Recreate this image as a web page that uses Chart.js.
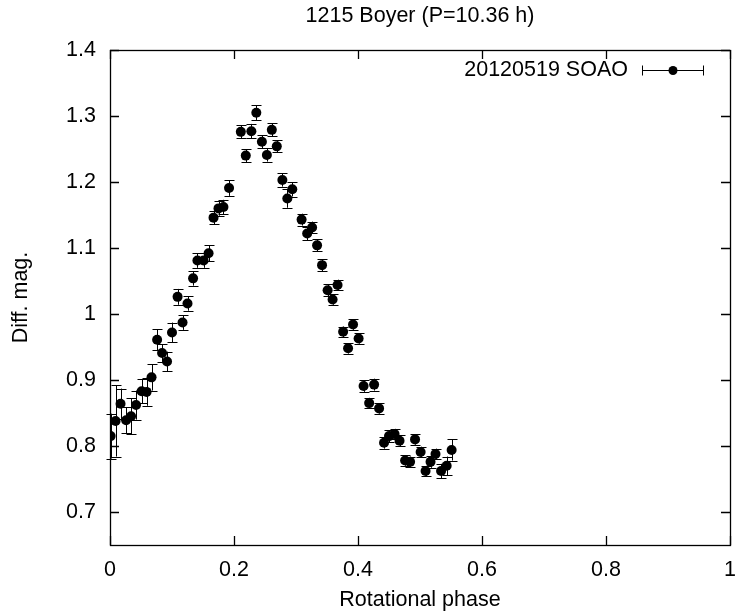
<!DOCTYPE html>
<html>
<head>
<meta charset="utf-8">
<script src="https://cdn.jsdelivr.net/npm/chart.js@4.4.1/dist/chart.umd.min.js"></script>
<style>
html,body{margin:0;padding:0;background:#fff;}
#wrap{width:735px;height:616px;position:relative;}
</style>
</head>
<body>
<div id="wrap"><canvas id="c" width="735" height="616"></canvas></div>
<script>
// ---- data ----
const chartTitle = '1215 Boyer (P=10.36 h)';
const seriesLabel = '20120519 SOAO';
const xAxisTitle = 'Rotational phase';
const yAxisTitle = 'Diff. mag.';
const xTicks = [0, 0.2, 0.4, 0.6, 0.8, 1];
const yTicks = [0.7, 0.8, 0.9, 1.0, 1.1, 1.2, 1.3, 1.4];

const phase = [
  0.001, 0.009, 0.017, 0.026, 0.034, 0.042, 0.051, 0.059, 0.067, 0.076,
  0.084, 0.092, 0.100, 0.109, 0.117, 0.125, 0.134, 0.141, 0.151, 0.159,
  0.167, 0.175, 0.183, 0.192, 0.211, 0.219, 0.228, 0.236, 0.245, 0.253,
  0.261, 0.269, 0.278, 0.286, 0.294, 0.309, 0.318, 0.326, 0.334, 0.342,
  0.351, 0.359, 0.367, 0.376, 0.384, 0.392, 0.401, 0.409, 0.418, 0.426,
  0.434, 0.442, 0.450, 0.459, 0.467, 0.476, 0.484, 0.492, 0.501, 0.509,
  0.517, 0.525, 0.534, 0.543, 0.551
];
const mag = [
  0.815, 0.838, 0.864, 0.839, 0.845, 0.862, 0.883, 0.882, 0.904, 0.961,
  0.941, 0.928, 0.972, 1.026, 0.987, 1.016, 1.054, 1.081, 1.081, 1.092,
  1.146, 1.160, 1.162, 1.191, 1.276, 1.240, 1.277, 1.305, 1.261, 1.241,
  1.279, 1.254, 1.203, 1.175, 1.189, 1.143, 1.122, 1.131, 1.104, 1.074,
  1.036, 1.022, 1.044, 0.973, 0.948, 0.984, 0.963, 0.891, 0.865, 0.893,
  0.857, 0.805, 0.815, 0.818, 0.808, 0.778, 0.776, 0.810, 0.791, 0.762,
  0.776, 0.788, 0.762, 0.770, 0.794
];
const magErr = [
  0.034, 0.054, 0.023, 0.020, 0.027, 0.022, 0.018, 0.021, 0.020, 0.016,
  0.013, 0.015, 0.015, 0.012, 0.011, 0.011, 0.011, 0.011, 0.011, 0.012,
  0.010, 0.011, 0.011, 0.012, 0.010, 0.010, 0.011, 0.011, 0.010, 0.010,
  0.010, 0.009, 0.010, 0.014, 0.011, 0.009, 0.010, 0.009, 0.009, 0.009,
  0.009, 0.008, 0.008, 0.008, 0.008, 0.008, 0.008, 0.009, 0.008, 0.009,
  0.008, 0.009, 0.009, 0.008, 0.008, 0.008, 0.008, 0.008, 0.008, 0.008,
  0.009, 0.008, 0.011, 0.014, 0.016
];

// ---- styling ----
const FONT_FAMILY = '"Liberation Sans", Arial, Helvetica, sans-serif';
const FONT_SIZE = 21.5;
const TICK_LEN = 9;
const CAP = 5;

const points = phase.map((p, i) => ({ x: p, y: mag[i] }));
const fmt = v => String(+Number(v).toFixed(2));

const errorBars = {
  id: 'errorBars',
  beforeDatasetsDraw(chart) {
    const { ctx, scales: { x, y } } = chart;
    ctx.save();
    ctx.strokeStyle = '#000';
    ctx.lineWidth = 1;
    phase.forEach((p, i) => {
      const px = Math.round(x.getPixelForValue(p)) + 0.5;
      const y1 = y.getPixelForValue(mag[i] - magErr[i]);
      const y2 = y.getPixelForValue(mag[i] + magErr[i]);
      ctx.beginPath();
      ctx.moveTo(px, y1); ctx.lineTo(px, y2);
      ctx.moveTo(px - CAP, Math.round(y1) + 0.5); ctx.lineTo(px + CAP, Math.round(y1) + 0.5);
      ctx.moveTo(px - CAP, Math.round(y2) + 0.5); ctx.lineTo(px + CAP, Math.round(y2) + 0.5);
      ctx.stroke();
    });
    ctx.restore();
  }
};

const frameAndLegend = {
  id: 'frameAndLegend',
  afterDraw(chart) {
    const { ctx, chartArea: a, scales: { x, y } } = chart;
    ctx.save();
    ctx.strokeStyle = '#000';
    ctx.lineWidth = 1.3;
    ctx.strokeRect(Math.round(a.left) + 0.5, Math.round(a.top) + 0.5,
                   Math.round(a.right - a.left), Math.round(a.bottom - a.top));
    ctx.beginPath();
    xTicks.forEach(v => {
      const px = Math.round(x.getPixelForValue(v)) + 0.5;
      ctx.moveTo(px, a.bottom); ctx.lineTo(px, a.bottom - TICK_LEN);
      ctx.moveTo(px, a.top); ctx.lineTo(px, a.top + TICK_LEN);
    });
    yTicks.forEach(v => {
      const py = Math.round(y.getPixelForValue(v)) + 0.5;
      ctx.moveTo(a.left, py); ctx.lineTo(a.left + TICK_LEN, py);
      ctx.moveTo(a.right, py); ctx.lineTo(a.right - TICK_LEN, py);
    });
    ctx.stroke();

    // legend (key) in top-right
    const ly = a.top + 20.5;
    const lineL = a.right - 88, lineR = a.right - 26;
    ctx.fillStyle = '#000';
    ctx.font = FONT_SIZE + 'px ' + FONT_FAMILY;
    ctx.textAlign = 'right';
    ctx.textBaseline = 'middle';
    ctx.fillText(seriesLabel, lineL - 14, ly);
    ctx.lineWidth = 1;
    ctx.beginPath();
    ctx.moveTo(lineL, ly); ctx.lineTo(lineR, ly);
    ctx.moveTo(lineL + 0.5, ly - 5); ctx.lineTo(lineL + 0.5, ly + 5);
    ctx.moveTo(lineR - 0.5, ly - 5); ctx.lineTo(lineR - 0.5, ly + 5);
    ctx.stroke();
    ctx.beginPath();
    ctx.arc((lineL + lineR) / 2, ly, 4.5, 0, Math.PI * 2);
    ctx.fill();
    ctx.restore();
  }
};

const tickFont = { family: FONT_FAMILY, size: FONT_SIZE };

new Chart(document.getElementById('c'), {
  type: 'scatter',
  data: {
    datasets: [{
      label: seriesLabel,
      data: points,
      pointRadius: 5,
      pointHoverRadius: 5,
      pointBackgroundColor: '#000',
      pointBorderColor: '#000',
      pointBorderWidth: 0,
      showLine: false
    }]
  },
  options: {
    responsive: false,
    animation: false,
    devicePixelRatio: 1,
    layout: { padding: { left: 0, right: 5, top: 0, bottom: 0 } },
    plugins: {
      legend: { display: false },
      tooltip: { enabled: false },
      title: {
        display: true,
        text: chartTitle,
        fullSize: false,
        color: '#000',
        font: { family: FONT_FAMILY, size: FONT_SIZE, weight: 'normal' },
        padding: { top: 3, bottom: 21.2 }
      }
    },
    scales: {
      x: {
        type: 'linear',
        min: 0, max: 1,
        afterBuildTicks: s => { s.ticks = xTicks.map(v => ({ value: v })); },
        afterFit: s => { s.height = 71; s.paddingLeft = 0; s.paddingRight = 0; },
        ticks: { color: '#000', font: tickFont, padding: 12, maxRotation: 0, callback: v => fmt(v) },
        grid: { display: false, drawTicks: false },
        border: { display: false },
        title: { display: true, text: xAxisTitle, color: '#000', font: tickFont, padding: { top: 0, bottom: 3 } }
      },
      y: {
        type: 'linear',
        min: 0.65, max: 1.4,
        afterBuildTicks: s => { s.ticks = yTicks.map(v => ({ value: v })); },
        afterFit: s => { s.width = 110; },
        ticks: { color: '#000', font: tickFont, padding: 14, callback: v => fmt(v) },
        grid: { display: false, drawTicks: false },
        border: { display: false },
        title: { display: true, text: yAxisTitle, color: '#000', font: tickFont, padding: { top: 8, bottom: 0 } }
      }
    }
  },
  plugins: [errorBars, frameAndLegend]
});
</script>
</body>
</html>
